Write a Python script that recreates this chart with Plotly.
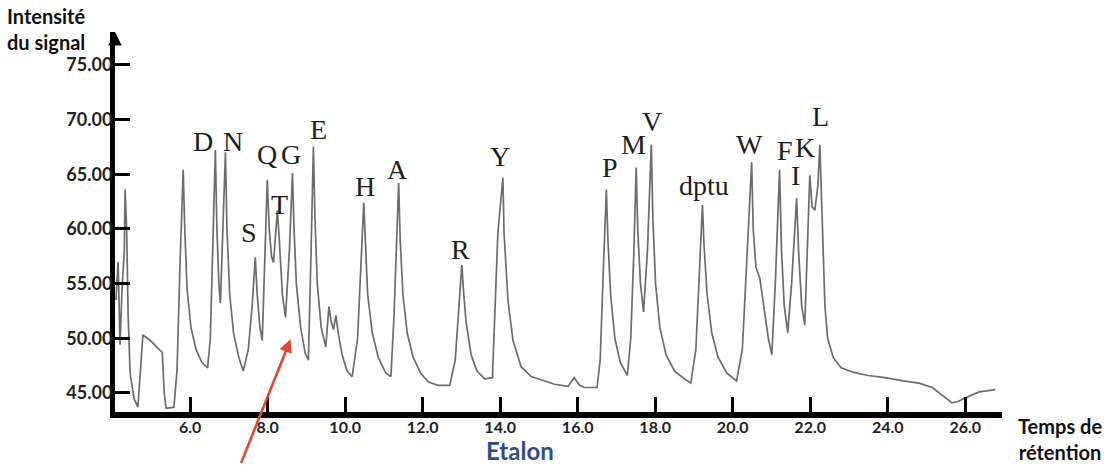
import plotly.graph_objects as go

# Chromatogram trace (retention time in min, signal intensity)
retention_time = [
    4.085, 4.14, 4.19, 4.24, 4.30, 4.32, 4.36, 4.40, 4.45, 4.55, 4.65, 4.72, 4.78, 4.97, 5.28, 5.33, 5.38, 5.58,
    5.66, 5.74, 5.82, 5.86, 5.92, 6.02, 6.15, 6.30, 6.45,
    6.52, 6.60, 6.65, 6.69, 6.74, 6.78,
    6.84, 6.91, 6.95, 7.02, 7.12, 7.25, 7.37,
    7.50, 7.60, 7.68, 7.73, 7.80, 7.86,
    7.93, 7.99, 8.04, 8.10, 8.15,
    8.21, 8.25, 8.30, 8.38, 8.46,
    8.56, 8.64, 8.68, 8.74, 8.85, 8.97, 9.05,
    9.12, 9.18, 9.22, 9.28, 9.38, 9.50,
    9.58, 9.64, 9.70, 9.76, 9.82, 9.92, 10.05, 10.18,
    10.32, 10.42, 10.48, 10.52, 10.58, 10.70, 10.85, 11.05, 11.18,
    11.26, 11.33, 11.38, 11.42, 11.49, 11.60, 11.75, 11.95, 12.15, 12.40, 12.70,
    12.84, 12.94, 13.01, 13.05, 13.12, 13.25, 13.40, 13.60, 13.80,
    13.94, 14.07, 14.10, 14.20, 14.33, 14.54, 14.80, 15.06, 15.40, 15.75, 15.91, 16.05, 16.17, 16.50,
    16.58, 16.67, 16.74, 16.78, 16.85, 16.96, 17.10, 17.28,
    17.37, 17.45, 17.51, 17.55, 17.62, 17.70,
    17.80, 17.90, 17.94, 18.01, 18.12, 18.28, 18.50, 18.75, 18.92,
    19.05, 19.15, 19.22, 19.26, 19.34, 19.46, 19.62, 19.85, 20.10,
    20.25, 20.38, 20.49, 20.53, 20.60, 20.70, 20.80, 20.92, 21.01,
    21.10, 21.21, 21.26, 21.33, 21.42,
    21.52, 21.65, 21.70, 21.78, 21.86,
    21.93, 21.99, 22.05, 22.12,
    22.20, 22.25, 22.30, 22.38, 22.45, 22.60, 22.80, 23.10, 23.50, 23.93, 24.40, 24.81, 25.15, 25.40,
    25.66, 25.80, 25.97, 26.36, 26.78]
intensity = [
    53.5, 57.0, 49.4, 54.4, 58.0, 63.6, 60.0, 52.0, 46.8, 44.5, 43.7, 47.0, 50.3, 49.8, 48.7, 45.0, 43.6, 43.7,
    47.0, 57.0, 65.4, 60.0, 54.5, 51.0, 49.0, 47.8, 47.3,
    50.0, 60.0, 67.2, 60.0, 55.0, 53.2,
    60.0, 67.0, 60.0, 54.0, 50.5, 48.3, 47.0,
    49.0, 53.0, 57.4, 54.0, 51.0, 49.8,
    58.0, 64.5, 60.0, 57.5, 56.9,
    60.0, 61.7, 59.0, 54.0, 51.9,
    58.0, 65.1, 60.0, 55.0, 51.0, 48.6, 48.0,
    58.0, 67.5, 61.0, 55.0, 51.0, 49.2,
    52.9, 51.5, 50.8, 52.1, 50.5, 48.5, 47.0, 46.5,
    50.0, 58.0, 62.4, 59.0, 54.0, 50.5, 48.3, 46.8, 46.5,
    52.0, 59.0, 64.2, 59.0, 54.0, 50.5, 48.3, 46.8, 46.0, 45.7, 45.7,
    48.0, 53.0, 56.7, 54.5, 51.5, 48.5, 47.0, 46.3, 46.4,
    59.6, 64.7, 59.6, 53.5, 49.8, 47.4, 46.5, 46.2, 45.8, 45.6, 46.4, 45.7, 45.5, 45.5,
    48.0, 57.0, 63.6, 59.0, 54.0, 50.0, 47.8, 46.6,
    50.0, 58.0, 65.6, 60.0, 55.0, 52.4,
    58.0, 67.7, 61.0, 55.0, 51.0, 48.5, 47.0, 46.3, 45.9,
    49.0, 57.0, 62.2, 58.5, 54.0, 50.5, 48.3, 46.8, 46.1,
    49.0, 58.0, 66.1, 60.0, 56.5, 55.5, 53.0, 50.0, 48.5,
    55.0, 65.4, 58.0, 53.0, 50.5,
    55.0, 62.8, 58.0, 53.0, 51.2,
    58.0, 64.9, 62.0, 61.7,
    64.0, 67.7, 62.0, 53.0, 50.0, 48.2, 47.3, 46.9, 46.6, 46.4, 46.1, 45.9, 45.5, 44.8,
    44.1, 44.2, 44.5, 45.1, 45.3]

# Peak labels
peak_labels = ["D", "N", "S", "Q", "G", "T", "E", "H", "A", "R", "Y", "P", "M", "V", "dptu",
               "W", "F", "I", "K", "L"]
peak_label_t = [6.34, 7.11, 7.53, 7.97, 8.61, 8.30, 9.31, 10.50, 11.36, 12.98, 14.0, 16.84, 17.44,
                17.93, 19.27, 20.44, 21.34, 21.63, 21.86, 22.27]
peak_label_y = [68.0, 68.0, 59.7, 66.8, 66.8, 62.2, 69.1, 63.9, 65.4, 58.1, 66.6, 65.6, 67.7,
                69.8, 64.0, 67.7, 67.2, 64.9, 67.4, 70.3]

x_ticks = [6, 8, 10, 12, 14, 16, 18, 20, 22, 24, 26]
x_tick_labels = ["6.0", "8.0", "10.0", "12.0", "14.0", "16.0", "18.0", "20.0", "22.0", "24.0", "26.0"]
y_ticks = [45, 50, 55, 60, 65, 70, 75]
y_tick_labels = ["45.00", "50.00", "55.00", "60.00", "65.00", "70.00", "75.00"]

fig = go.Figure()
fig.add_trace(go.Scatter(x=retention_time, y=intensity, mode="lines",
                         line=dict(color="#6c6c6c", width=1.7), hoverinfo="skip",
                         showlegend=False))

annotations = []
for lab, t, v in zip(peak_labels, peak_label_t, peak_label_y):
    annotations.append(dict(x=t, y=v, xref="x", yref="y", text=lab, showarrow=False,
                            font=dict(family="Liberation Serif", size=28, color="#1e1e1e")))

sans = "Lato"
annotations += [
    dict(x=-0.124, y=1.08, xref="paper", yref="paper", xanchor="left", yanchor="top",
         text="Intensité<br>du signal", showarrow=False, align="left",
         font=dict(family=sans, size=20, color="#111", weight=700)),
    dict(x=1.065, y=0.0, xref="paper", yref="paper", xanchor="center", yanchor="top",
         text="Temps de<br>rétention", showarrow=False, align="center",
         font=dict(family=sans, size=20, color="#111", weight=700)),
    dict(x=0.4566, y=-0.102, xref="paper", yref="paper", xanchor="center", yanchor="middle",
         text="Etalon", showarrow=False,
         font=dict(family=sans, size=24, color="#2f4d8c", weight=700)),
    dict(x=8.59, y=49.9, xref="x", yref="y", ax=-50, ay=125, axref="pixel", ayref="pixel",
         text="", showarrow=True, arrowhead=2, arrowsize=1, arrowwidth=2.6,
         arrowcolor="#e4472c"),
    dict(x=0.03, y=-0.14, xref="paper", yref="paper", xanchor="left", yanchor="top",
         text="Chromatogramme du mélange", showarrow=False,
         font=dict(family=sans, size=24, color="#ee5a35", weight=700)),
    # arrow at the top of the y axis
    dict(x=0, y=1.0, xref="paper", yref="paper", ax=0, ay=14, text="", showarrow=True,
         arrowhead=2, arrowsize=0.9, arrowwidth=3, arrowcolor="#000"),
]

fig.update_layout(
    width=1117, height=472,
    margin=dict(l=115, r=115, t=32, b=60),
    paper_bgcolor="white", plot_bgcolor="white",
    annotations=annotations,
    xaxis=dict(range=[4.06, 26.95], tickmode="array", tickvals=x_ticks, ticktext=x_tick_labels,
               ticks="inside", ticklen=15, tickwidth=3, tickcolor="#000",
               showline=True, linecolor="#000", linewidth=6, showgrid=False, zeroline=False,
               ticklabelstandoff=-4,
               tickfont=dict(family=sans, size=16, color="#222", weight=700)),
    yaxis=dict(range=[43.26, 78.0], tickmode="array", tickvals=y_ticks, ticktext=y_tick_labels,
               ticks="inside", ticklen=15, tickwidth=3, tickcolor="#000",
               showline=True, linecolor="#000", linewidth=5, showgrid=False, zeroline=False,
               ticklabelstandoff=-6,
               tickfont=dict(family=sans, size=18, color="#222", weight=700)),
)

fig.write_html("out.html")
